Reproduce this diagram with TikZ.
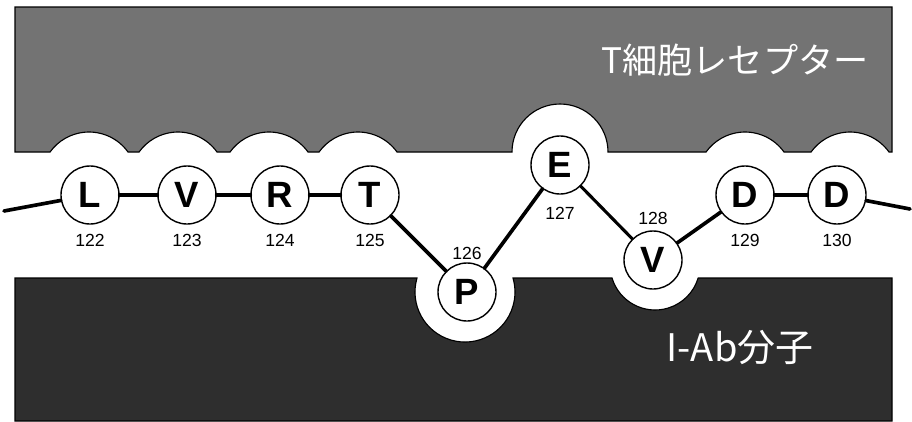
\documentclass[tikz,border=0pt]{standalone}
\usepackage{fontspec}
\setmainfont{Liberation Sans}
\newfontfamily\jpfont{Noto Sans CJK JP}
\usetikzlibrary{calc}

\begin{document}
\begin{tikzpicture}[
  x=0.025cm, y=-0.025cm,
  %% Residue circles — white, thin black rim
  res/.style={
    draw=black, fill=white, circle, line width=1pt,
    minimum size=1.45cm, inner sep=0pt,
    font=\fontsize{26}{26}\selectfont\bfseries
  },
  %% Residue numbers
  num/.style={font=\fontsize{12.5}{13}\selectfont, inner sep=0pt},
  %% Backbone bonds
  bond/.style={line width=2.6pt, line cap=round},
  %% Molecule surfaces
  tcr/.style={draw=black, line width=0.8pt, fill=black!55},
  mhc/.style={draw=black, line width=0.8pt, fill=black!82},
  %% Surface labels
  mlab/.style={font=\jpfont\fontsize{25}{25}\selectfont, text=white, inner sep=0pt}
]
\useasboundingbox (0,0) rectangle (912,421);
\fill[white] (0,0) rectangle (912,421);

%% ── T-cell receptor (upper surface) ──────────────────────────
\path[tcr] (15,7) -- (892,7) -- (892,152) -- (889,152)
  arc[start angle=324.3, end angle=215.7, radius=48] -- (784,152)
  arc[start angle=324.3, end angle=215.7, radius=48] -- (608,152)
  arc[start angle=0, end angle=-180, radius=48] -- (397,152)
  arc[start angle=324.3, end angle=215.7, radius=48] -- (308,152)
  arc[start angle=324.3, end angle=215.7, radius=48] -- (217,152)
  arc[start angle=324.3, end angle=215.7, radius=48] -- (128,152)
  arc[start angle=324.3, end angle=215.7, radius=48] -- (15,152) -- cycle;

%% ── I-Ab molecule (lower surface) ────────────────────────────
\path[mhc] (15,421) -- (15,278) -- (417,278)
  arc[start angle=196.3, end angle=-16.3, radius=50] -- (612,278)
  arc[start angle=163.2, end angle=16.8, radius=45] -- (892,278)
  -- (892,421) -- cycle;

\node[mlab] (tlab) at (735,60) {T細胞レセプター};
\node[mlab, font=\jpfont\fontsize{27}{27}\selectfont] (alab) at (740,348) {I-Ab分子};

%% ── Peptide residues ─────────────────────────────────────────
\node[res] (r122) at ( 90,195) {L};
\node[res] (r123) at (187,195) {V};
\node[res] (r124) at (280,195) {R};
\node[res] (r125) at (370,195) {T};
\node[res] (r126) at (467,292) {P};
\node[res] (r127) at (560,165) {E};
\node[res] (r128) at (653,260) {V};
\node[res] (r129) at (745,195) {D};
\node[res] (r130) at (837,195) {D};

\node[num] (n122) at ( 90,240) {122};
\node[num] (n123) at (187,240) {123};
\node[num] (n124) at (280,240) {124};
\node[num] (n125) at (370,240) {125};
\node[num] (n126) at (467,253) {126};
\node[num] (n127) at (560,213) {127};
\node[num] (n128) at (653,218) {128};
\node[num] (n129) at (745,240) {129};
\node[num] (n130) at (837,240) {130};

%% ── Backbone ─────────────────────────────────────────────────
\coordinate (lend) at (4,211);
\coordinate (rend) at (910,209);

\draw[bond] (lend) -- (r122);
\draw[bond] (r122) -- (r123);
\draw[bond] (r123) -- (r124);
\draw[bond] (r124) -- (r125);
\draw[bond] (r125) -- (r126);
\draw[bond] (r126) -- (r127);
\draw[bond, line width=2.2pt] (r127) -- (r128);
\draw[bond] (r128) -- (r129);
\draw[bond] (r129) -- (r130);
\draw[bond] (r130) -- (rend);

\end{tikzpicture}
\end{document}
